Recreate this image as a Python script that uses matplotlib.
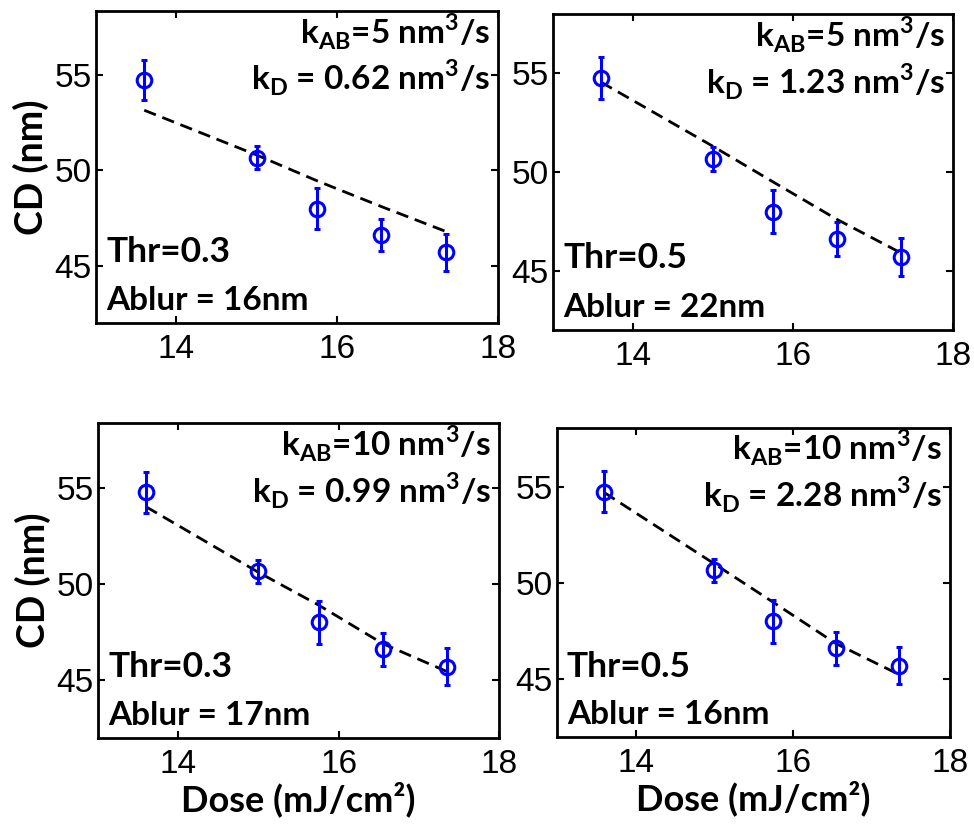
import numpy as np
import matplotlib.pyplot as plt

# measured CD vs dose (same data in every panel)
dose = [13.6, 15.0, 15.75, 16.55, 17.35]
cd = [54.75, 50.65, 48.0, 46.6, 45.7]
cd_err = [1.05, 0.6, 1.1, 0.85, 0.95]

# model fits for each parameter set
fit_1 = [53.15, 50.8, 49.45, 48.1, 46.8]
fit_2 = [54.55, 51.3, 49.5, 47.6, 45.9]
fit_3 = [54.0, 50.6, 48.9, 46.9, 45.45]
fit_4 = [54.7, 51.0, 49.0, 46.85, 45.25]

k_ab = ['5', '5', '10', '10']
k_d = ['0.62', '1.23', '0.99', '2.28']
thr = ['0.3', '0.5', '0.3', '0.5']
ablur = ['16', '22', '17', '16']
fits = [fit_1, fit_2, fit_3, fit_4]
ytops = [58.35, 58.0, 58.35, 58.05]

W, H = 974, 825
fig = plt.figure(figsize=(W / 100, H / 100), dpi=100)

# axes boxes in pixels: left, top, right, bottom
boxes = [(96, 11, 498, 323), (553, 14, 953, 330),
         (98, 423, 499, 738), (557, 428, 950, 737)]

bold = dict(family='Lato', fontweight='bold')

for i, (l, t, r, b) in enumerate(boxes):
    ax = fig.add_axes([l / W, 1 - b / H, (r - l) / W, (b - t) / H])
    ax.plot(dose, fits[i], '--', color='k', lw=2, dashes=(4.5, 2.5))
    ax.errorbar(dose, cd, yerr=cd_err, fmt='o', color='#0000ff', mfc='none',
                ms=10.5, mew=2.2, elinewidth=2.2, capsize=2.5, capthick=2.2)
    ax.set_xlim(13, 18)
    ax.set_ylim(42, ytops[i])
    ax.set_xticks([14, 16, 18])
    ax.set_yticks([45, 50, 55])
    ax.tick_params(direction='in', length=5, width=1.5, top=True, right=True,
                   labelsize=24)
    ax.tick_params(axis='x', pad=8)
    ax.tick_params(axis='y', pad=3)
    for lab in ax.get_xticklabels() + ax.get_yticklabels():
        lab.set_family('Liberation Sans')
    for s in ax.spines.values():
        s.set_linewidth(2)

    ax.text(0.98, 0.895, r'k$_\mathregular{AB}$=' + k_ab[i] + r' nm$^\mathregular{3}$/s',
            transform=ax.transAxes, ha='right', va='baseline', fontsize=24, **bold)
    ax.text(0.98, 0.745, r'k$_\mathregular{D}$ = ' + k_d[i] + r' nm$^\mathregular{3}$/s',
            transform=ax.transAxes, ha='right', va='baseline', fontsize=24, **bold)
    ax.text(0.025, 0.195, 'Thr=' + thr[i], transform=ax.transAxes,
            ha='left', va='baseline', fontsize=25.5, **bold)
    ax.text(0.025, 0.042, 'Ablur = ' + ablur[i] + 'nm', transform=ax.transAxes,
            ha='left', va='baseline', fontsize=24, **bold)

    if i in (0, 2):
        ax.set_ylabel('CD (nm)', fontsize=27, labelpad=4, **bold)
    if i in (2, 3):
        ax.set_xlabel('Dose (mJ/cm²)', fontsize=26, labelpad=1, **bold)

fig.savefig('out.png', dpi=100)
